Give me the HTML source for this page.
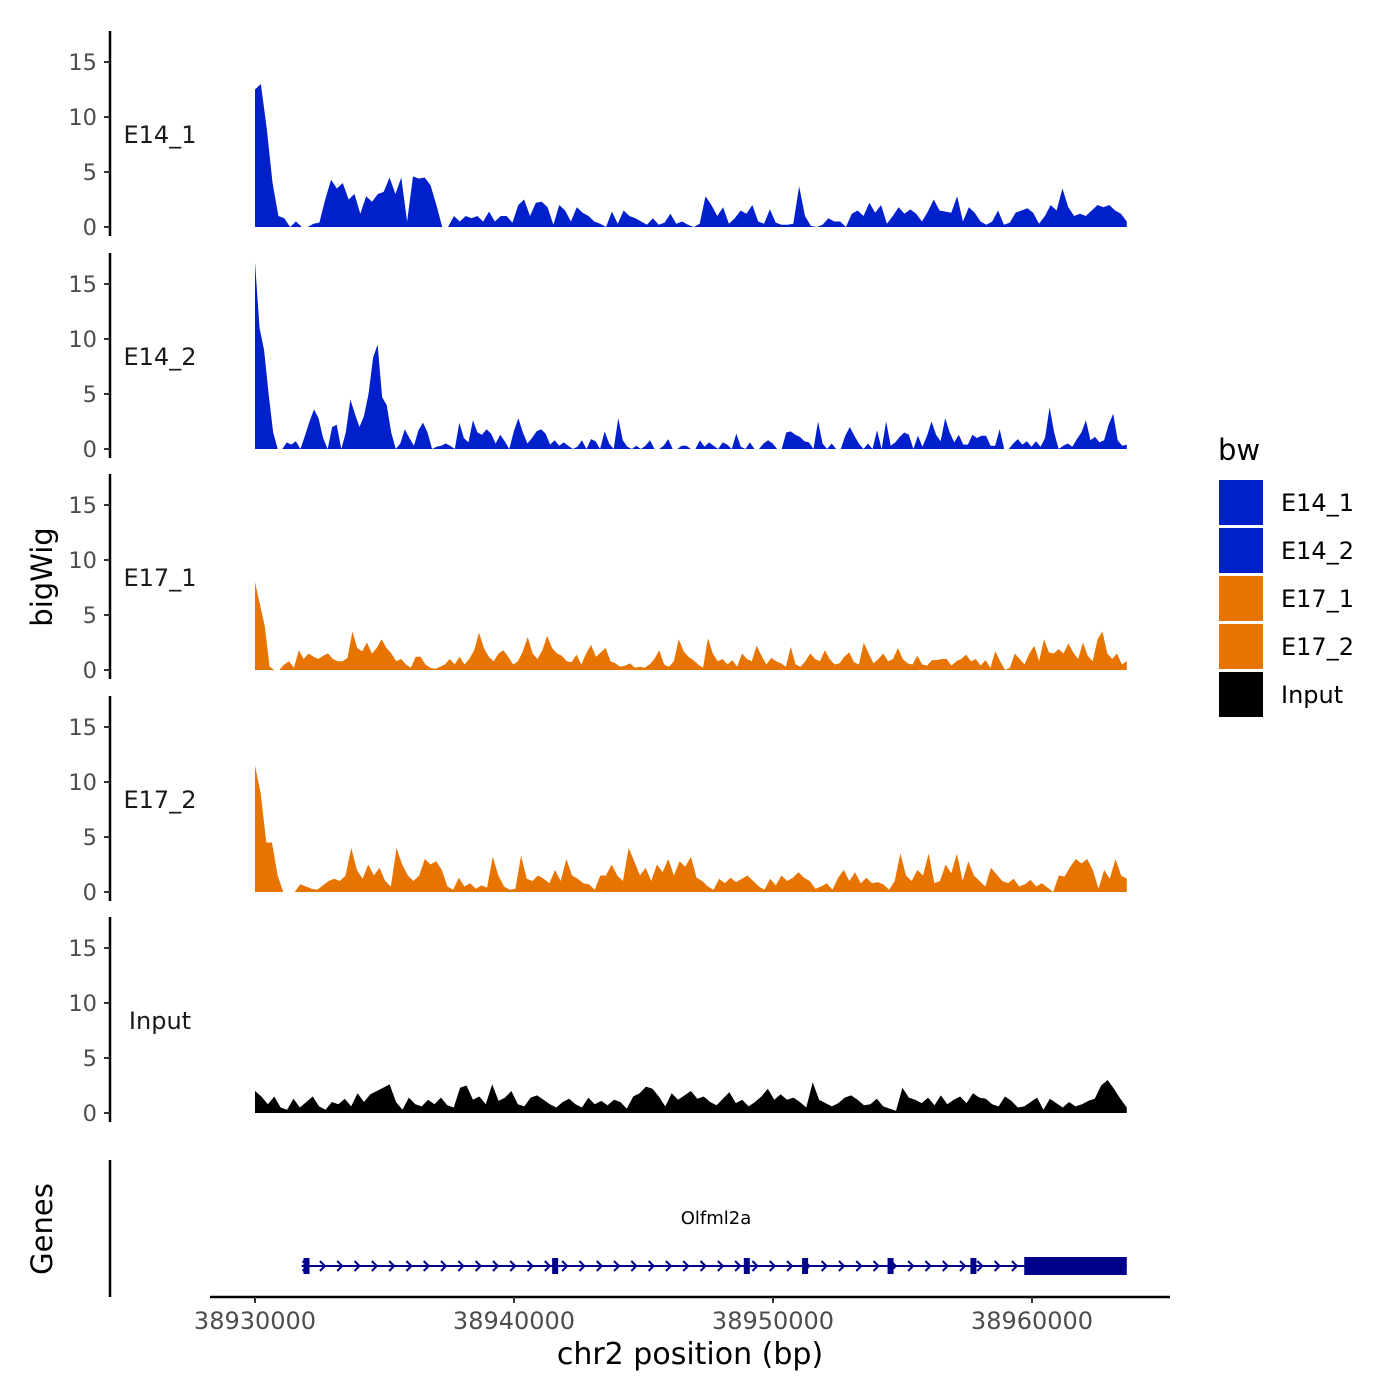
<!DOCTYPE html>
<html><head><meta charset="utf-8"><style>
html,body{margin:0;padding:0;background:#fff;}
svg{display:block;font-family:"DejaVu Sans","Liberation Sans",sans-serif;}
</style></head><body>
<svg id="chart" width="1400" height="1400" viewBox="0 0 1400 1400">
<text x="52" y="577" transform="rotate(-90 52 577)" text-anchor="middle" font-size="29" fill="#000">bigWig</text>
<text x="52" y="1229" transform="rotate(-90 52 1229)" text-anchor="middle" font-size="29" fill="#000">Genes</text>
<text x="690" y="1364" text-anchor="middle" font-size="30" fill="#000">chr2 position (bp)</text>
<g id="tracks"></g>
<g id="genes"></g>
<g id="xaxis"></g>
<g id="legend"></g>
</svg>
<script>
const trackNames = ["E14_1","E14_2","E17_1","E17_2","Input"];
const trackColors = ["#0020CC","#0020CC","#E87400","#E87400","#000000"];
const yTicks = [0,5,10,15];
const xTicks = [38930000,38940000,38950000,38960000];
const dataStart = 38930000;
const dataEnd = 38963660;
const e14_1 = [12.5,13,9,4,1,0.8,0,0.5,0,0,0.3,0.4,2.5,4.3,3.5,4,2.5,3,1.2,2.8,2.3,3,3.2,4.5,3,4.5,0.5,4.6,4.4,4.5,3.8,2,0,0,1,0.5,1,0.8,1,0.5,1.4,0.5,1,1,0.4,2,2.5,1,2.2,2.3,1.8,0.2,2,1.5,0.5,1.8,1.3,1,0.5,0.3,0,1.4,0.3,1.5,1,0.8,0.5,0.2,0.8,0.2,0.4,1.2,0.3,0.5,0.2,0,0.3,2.8,2,1,1.8,0.3,0.8,1.5,1.2,2,0.5,0.3,1.6,0.4,0.2,0.2,0.3,3.7,1,0.1,0,0.2,0.8,0.5,0.5,0,1.2,1.5,1,2.2,1.3,2.0,0.3,1,1.8,1.2,1.6,1.2,0.5,1.4,2.5,1.5,1.4,1.3,2.8,0.5,1.8,1.3,0.5,0.2,0.5,1.5,0.2,0.4,1.3,1.5,1.7,1.3,0.3,1,2,1.5,3.5,1.8,1,1.2,1,1.5,2,1.8,2,1.5,1.2,0.5];
const e14_2 = [17,11,9,5,1.5,0,0,0.6,0.4,0.7,0,1.2,2.5,3.6,2.8,1,0,2,2.2,0,1.5,4.5,3.2,2,3,5,8.3,9.5,4.7,4,1.5,0,0.5,1.8,1.0,0.3,1.7,2.4,1.5,0,0.2,0.3,0.5,0.3,0,2.4,1,0.6,2.6,1.5,1.3,1.8,1.4,0.5,1.3,0.7,0,1.6,2.8,1.5,0.5,1.0,1.6,1.8,1.4,0.4,0.8,0.3,0.6,0.3,0,0.2,0.8,0,0.9,0.7,0,1.6,0.5,0,2.8,0.8,0.2,0,0.3,0,0.3,0.8,0,0,0.3,0.9,0,0,0.3,0.3,0,0,0.8,0.2,0.6,0.3,0,0.6,0.4,0,1.4,0.2,0,0.6,0,0,0.5,0.8,0.5,0,0,1.5,1.6,1.3,1.1,0.7,0.6,0,2.5,0.5,0,0.5,0,0,1.2,2,1.2,0.5,0,0.5,0,1.7,0,2.5,0.3,0.6,1.1,1.5,1.3,0,1.2,0.2,1.2,2.5,1.3,0.7,2.8,1.5,0.6,1.3,0.4,0.4,1.3,1,1.2,1.2,0.3,0.3,1.8,0,0,0.5,0.9,0.4,0.7,0.2,0.7,0.2,1.0,3.8,1.5,0,0.3,0.5,0.2,0.9,1.5,2.6,0.8,1.1,0.6,0.8,2.2,3.2,0.8,0.3,0.4];
const e17_1 = [8,6,4,0.3,0,0,0.5,0.8,0.2,1.8,1.0,1.5,1.2,1,1.3,1.5,1,0.8,0.8,1.1,3.5,2,1.7,2.5,1.5,2,2.8,2.0,1.5,0.8,1.0,0.5,0.2,1.2,1.2,0.5,0.2,0.1,0.3,0.5,1,0.5,1.2,0.5,1.0,1.8,3.4,2,1.2,0.8,1.5,1.8,1.2,0.5,0.8,1.7,3.0,1.5,1,1.8,3.1,2.0,1.5,1.3,0.8,0.7,1.4,0.5,1.5,2.3,1.2,1.6,2,0.8,0.6,0.3,0.4,0.6,0.2,0.3,0.2,0.5,1.0,1.8,0.5,0.3,0.8,2.8,1.7,1.2,0.9,0.5,0.2,2.9,1.5,0.8,1.0,0.5,0.9,0.3,1.5,1.0,0.8,2.2,1.3,0.5,1.1,0.8,0.6,0.3,2.1,0.5,0.3,0.8,1.5,1.0,0.8,1.8,1.0,0.5,0.6,1.2,1.6,0.7,0.5,2.5,1.5,0.6,1.0,1.5,0.8,1,2,1,0.6,0.5,1.3,0.5,0.4,0.9,0.9,1,1,0.4,0.8,1.0,1.4,0.8,1,0.4,0.9,0.2,1.7,0.8,0,0.2,1.5,1,0.5,1.5,2.2,0.8,2.8,1.6,1.5,1.9,1.5,2.4,1.6,1,2.5,1.3,0.8,2.8,3.5,1.5,1,1.5,0.5,0.8];
const e17_2 = [11.5,9,4.5,4.5,1.5,0,0,0,0.7,0.5,0.3,0.2,0.6,1,1.2,1.0,1.5,4,2,1.2,2.5,1.5,2.2,1.0,0.5,4,2.5,1.5,1.0,1.5,3,2.5,2.8,2,0.5,0.2,1.3,0.5,0.8,0.3,0.6,0.4,3.2,1.5,0.5,0.2,0.3,3.3,1.2,1,1.5,1.2,0.8,2.0,1,3.0,1.5,1.2,0.8,0.7,0.2,1.5,1.5,2.5,1.5,1,4,2.8,1.5,2.2,1.0,2.5,1.8,3.0,1.5,2.8,2.3,3.2,1.3,1.0,0.5,0.2,1.2,0.8,1.3,0.9,1.2,1.5,1.0,0.5,0.2,1.2,0.6,1.5,1.0,1.3,1.8,1.3,1.0,0.3,0.5,0.8,0.2,1.3,2.0,1.0,1.8,0.8,1.3,0.8,0.9,0.7,0.2,1,3.5,1.5,1,2,1.5,3.5,0.8,1,2.5,1.7,3.5,1.0,2.8,1.5,1,0.5,2.2,1.6,1,0.8,1.2,0.5,0.7,1.1,0.5,0.8,0.4,0,1.5,1.4,2.3,3,2.6,3,2,0.3,2,1.2,3,1.5,1.2];
const input = [2,1.5,0.8,1.5,0.5,0.3,1.3,0.5,1,1.5,0.6,0.3,1,0.8,1.3,0.6,1.8,1,1.7,2,2.3,2.6,1,0.3,1.4,0.8,0.6,1.2,0.8,1.4,0.7,0.5,2.3,2.5,1.2,1.5,0.8,2.6,1.1,1.4,2,0.8,0.6,1.4,1.6,1.2,0.8,0.5,1,1.3,0.8,0.5,1.4,0.8,1.1,0.7,1.2,1,0.4,1.5,1.8,2.4,2.2,1.5,0.6,1.8,1.2,1.6,2,1.3,1.5,1.0,0.7,1.3,1.9,0.9,1.2,0.6,1.0,1.5,2.2,1.2,1.7,1.2,1.4,1.0,0.5,2.8,1.2,0.9,0.6,0.9,1.4,1.6,1.2,0.7,0.8,1.3,0.6,0.4,0.2,2.3,1.4,1.2,0.9,1.4,0.7,1.6,0.8,1.2,1.5,0.9,1.8,1.4,1.3,0.8,0.6,1.5,1.1,0.5,0.6,1.0,1.4,0.3,1.3,0.9,0.5,1,0.6,0.8,1.1,1.3,2.5,3,2.2,1.3,0.5];
const trackData = [e14_1,e14_2,e17_1,e17_2,input];
const geneStart = 38931800;
const geneEnd = 38963660;
const exonStarts = [38931950,38941550,38948950,38951200,38954500,38957700];
const utrStart = 38959700;
const legendLabels = ["E14_1","E14_2","E17_1","E17_2","Input"];

const NS = "http://www.w3.org/2000/svg";
function mk(tag, attrs, parent){const e=document.createElementNS(NS,tag);for(const k in attrs)e.setAttribute(k,attrs[k]);parent.appendChild(e);return e;}
const xScale = bp => 255 + (bp - 38930000) * (777/30000);
const zeroY = [227, 449, 670, 892, 1113];
const yScale = (v, i) => zeroY[i] - v * 11;

const tracks = document.getElementById('tracks');
trackNames.forEach((name, i) => {
  const g = mk('g', {}, tracks);
  
  
  const ax = mk('line', {x1:110,x2:110,y1:zeroY[i]-196,y2:zeroY[i]+9,stroke:'#000','stroke-width':2.5}, g);
  
  
  yTicks.forEach(t => {
    const y = yScale(t, i);
    mk('line', {x1:104,x2:110,y1:y,y2:y,stroke:'#333','stroke-width':2}, g);
    const tx = mk('text', {x:97,y:y+8,'text-anchor':'end','font-size':22.5,fill:'#4d4d4d'}, g);
    tx.textContent = t;
    
    
  });
  const lbl = mk('text', {x:160,y:zeroY[i]-84,'text-anchor':'middle','font-size':24,fill:'#1a1a1a'}, g);
  lbl.textContent = name;
  
  
  const d = trackData[i];
  const step = (dataEnd - dataStart) / (d.length - 1);
  let pts = xScale(dataStart) + ',' + zeroY[i];
  d.forEach((v, j) => { pts += ' ' + xScale(dataStart + j*step).toFixed(2) + ',' + yScale(v, i).toFixed(2); });
  pts += ' ' + xScale(dataEnd) + ',' + zeroY[i];
  const area = mk('polygon', {points:pts, fill:trackColors[i]}, g);
  
  
});

const genes = document.getElementById('genes');
mk('line', {x1:110,x2:110,y1:1160,y2:1297,stroke:'#000','stroke-width':2.5}, genes);
const gy = 1266, gc = '#00008B';
const gl = mk('line', {x1:xScale(geneStart),x2:xScale(geneEnd),y1:gy,y2:gy,stroke:gc,'stroke-width':2}, genes);


for (let x = xScale(geneStart) + 4; x < xScale(utrStart); x += 17.3) {
  mk('polyline', {points:`${x-3},${gy-5} ${x+2},${gy} ${x-3},${gy+5}`, fill:'none', stroke:gc, 'stroke-width':2}, genes);
}
exonStarts.forEach(s => {
  const r = mk('rect', {x:xScale(s)-2, y:gy-8, width:6, height:16, fill:gc}, genes);
  
  
});
const utr = mk('rect', {x:xScale(utrStart), y:gy-9, width:xScale(geneEnd)-xScale(utrStart), height:18, fill:gc}, genes);


const gname = mk('text', {x:716,y:1224,'text-anchor':'middle','font-size':18,fill:'#000'}, genes);
gname.textContent = 'Olfml2a';



const xaxis = document.getElementById('xaxis');
mk('line', {x1:210,x2:1170,y1:1297,y2:1297,stroke:'#000','stroke-width':2.5}, xaxis);
xTicks.forEach(t => {
  const x = xScale(t);
  mk('line', {x1:x,x2:x,y1:1297,y2:1303,stroke:'#333','stroke-width':2}, xaxis);
  const tx = mk('text', {x:x,y:1329,'text-anchor':'middle','font-size':24,fill:'#4d4d4d'}, xaxis);
  tx.textContent = t;
  
  
});

const legend = document.getElementById('legend');
const lt = mk('text', {x:1218,y:460,'font-size':29,fill:'#000'}, legend);
lt.textContent = 'bw';


const legendColors = trackColors;
legendLabels.forEach((l, i) => {
  const y = 480 + i*48;
  const r = mk('rect', {x:1219,y:y,width:44,height:45,fill:legendColors[i]}, legend);
  
  
  const t = mk('text', {x:1281,y:y+31,'font-size':24,fill:'#000'}, legend);
  t.textContent = l;
  
  
});
</script>
</body></html>
